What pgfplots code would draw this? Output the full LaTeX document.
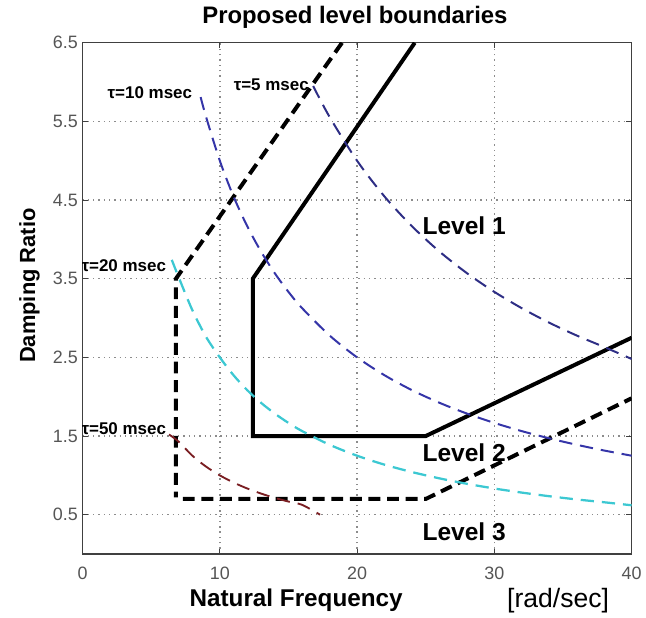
\documentclass[border=0pt]{standalone}
\usepackage{fontspec}
\setmainfont{Liberation Sans}
\usepackage{pgfplots}
\pgfplotsset{compat=1.18}
\usetikzlibrary{calc}
\definecolor{tau5}{HTML}{2E2E85}
\definecolor{tau10}{HTML}{3535A8}
\definecolor{tau20}{HTML}{3CC8D2}
\definecolor{tau50}{HTML}{7A1E22}
\definecolor{axgray}{HTML}{404040}
\definecolor{tickgray}{HTML}{555555}
\begin{document}
\begin{tikzpicture}
\begin{axis}[
  scale only axis,
  width=414pt, height=385.5pt,
  xmin=0, xmax=40, ymin=0, ymax=6.5,
  xtick={0,10,20,30,40},
  ytick={0.5,1.5,2.5,3.5,4.5,5.5,6.5},
  /pgf/number format/assume math mode=true,
  /pgf/number format/fixed,
  ticklabel style={font=\fontsize{13.5}{14}\selectfont, text=tickgray},
  xticklabel style={yshift=-6pt},
  tick align=inside,
  major tick length=4pt,
  tick style={axgray, line width=0.6pt},
  axis line style={axgray, line width=0.9pt},
  grid=major,
  major grid style={gray!90, line width=1.1pt, dash pattern=on 1pt off 3pt},
  clip=true,
]
% outer dashed boundary (Level 2/3)
\addplot[black, line width=3pt, dash pattern=on 9pt off 5pt] coordinates {
  (18.9,6.5) (6.8,3.5) (6.8,0.72)
};
\addplot[black, line width=3pt, dash pattern=on 9pt off 5pt] coordinates {
  (7.3,0.7) (25,0.7) (40,1.98)
};
% solid boundary (Level 1/2)
\addplot[black, line width=3pt] coordinates {
  (24.2,6.5) (12.4,3.5) (12.4,1.5) (25,1.5) (40,2.75)
};
% tau = 5 msec
\addplot[tau5, line width=1.5pt, dash pattern=on 10pt off 6pt, smooth] coordinates {
  (16.8,5.95) (18,5.556) (20,5.0) (22,4.545) (24,4.167) (26,3.846) (28,3.571)
  (30,3.333) (32,3.125) (34,2.941) (36,2.778) (38,2.632) (40,2.48)
};
% tau = 10 msec
\addplot[tau10, line width=1.5pt, dash pattern=on 10pt off 6pt, smooth] coordinates {
  (8.6,5.81) (9,5.556) (10,5.0) (11,4.545) (12,4.167) (13,3.846) (14,3.571)
  (15,3.333) (16,3.125) (18,2.778) (20,2.5) (22,2.273) (24,2.083) (26,1.923)
  (28,1.786) (30,1.667) (32,1.5625) (34,1.471) (36,1.389) (38,1.316) (40,1.25)
};
% tau = 20 msec
\addplot[tau20, line width=1.7pt, dash pattern=on 10pt off 6pt, smooth] coordinates {
  (6.5,3.74) (7,3.52) (8,3.1) (9,2.76) (10,2.5) (11,2.273) (12,2.083) (13,1.923)
  (14,1.786) (15,1.667) (16,1.5625) (18,1.389) (20,1.25) (22,1.136) (24,1.042)
  (26,0.962) (28,0.893) (30,0.833) (32,0.781) (34,0.735) (36,0.694) (38,0.658) (40,0.62)
};
% tau = 50 msec
\addplot[tau50, line width=1.4pt, dash pattern=on 10pt off 6pt, smooth] coordinates {
  (6.3,1.52) (7,1.429) (8,1.25) (9,1.111) (10,1.0) (11,0.909) (12,0.833)
  (13,0.769) (14,0.714) (15,0.667) (16,0.625) (17.3,0.5)
};
% annotations
\node[anchor=east, font=\bfseries\fontsize{12.8}{14}\selectfont, inner sep=1pt] at (axis cs:8.1,5.87) {τ=10 msec};
\node[anchor=east, font=\bfseries\fontsize{12.8}{14}\selectfont, inner sep=1pt] at (axis cs:16.6,5.97) {τ=5 msec};
\node[anchor=east, font=\bfseries\fontsize{12.8}{14}\selectfont, inner sep=1pt] at (axis cs:6.2,3.66) {τ=20 msec};
\node[anchor=east, font=\bfseries\fontsize{12.8}{14}\selectfont, inner sep=1pt] at (axis cs:6.2,1.59) {τ=50 msec};
\node[font=\bfseries\fontsize{18.5}{20}\selectfont] at (axis cs:27.8,4.18) {Level 1};
\node[font=\bfseries\fontsize{18.5}{20}\selectfont] at (axis cs:27.8,1.29) {Level 2};
\node[font=\bfseries\fontsize{18.5}{20}\selectfont] at (axis cs:27.8,0.28) {Level 3};
\end{axis}
% title and labels
\node[font=\bfseries\fontsize{18}{20}\selectfont] at ($(current axis.north west)!0.496!(current axis.north east) + (0,19pt)$) {Proposed level boundaries};
\node[font=\bfseries\fontsize{18.3}{20}\selectfont] at ($(current axis.south west)!0.389!(current axis.south east) + (0,-35pt)$) {Natural Frequency};
\node[font=\fontsize{20}{22}\selectfont] at ($(current axis.south west)!0.866!(current axis.south east) + (0,-35pt)$) {[rad/sec]};
\node[font=\bfseries\fontsize{16.5}{18}\selectfont, rotate=90] at ($(current axis.south west)!0.525!(current axis.north west) + (-40pt,0)$) {Damping Ratio};
% bounding box matching the reference margins
\path ($(current axis.south west)+(-62.25pt,-45pt)$) rectangle ($(current axis.north east)+(8.25pt,32.25pt)$);
\end{tikzpicture}
\end{document}
